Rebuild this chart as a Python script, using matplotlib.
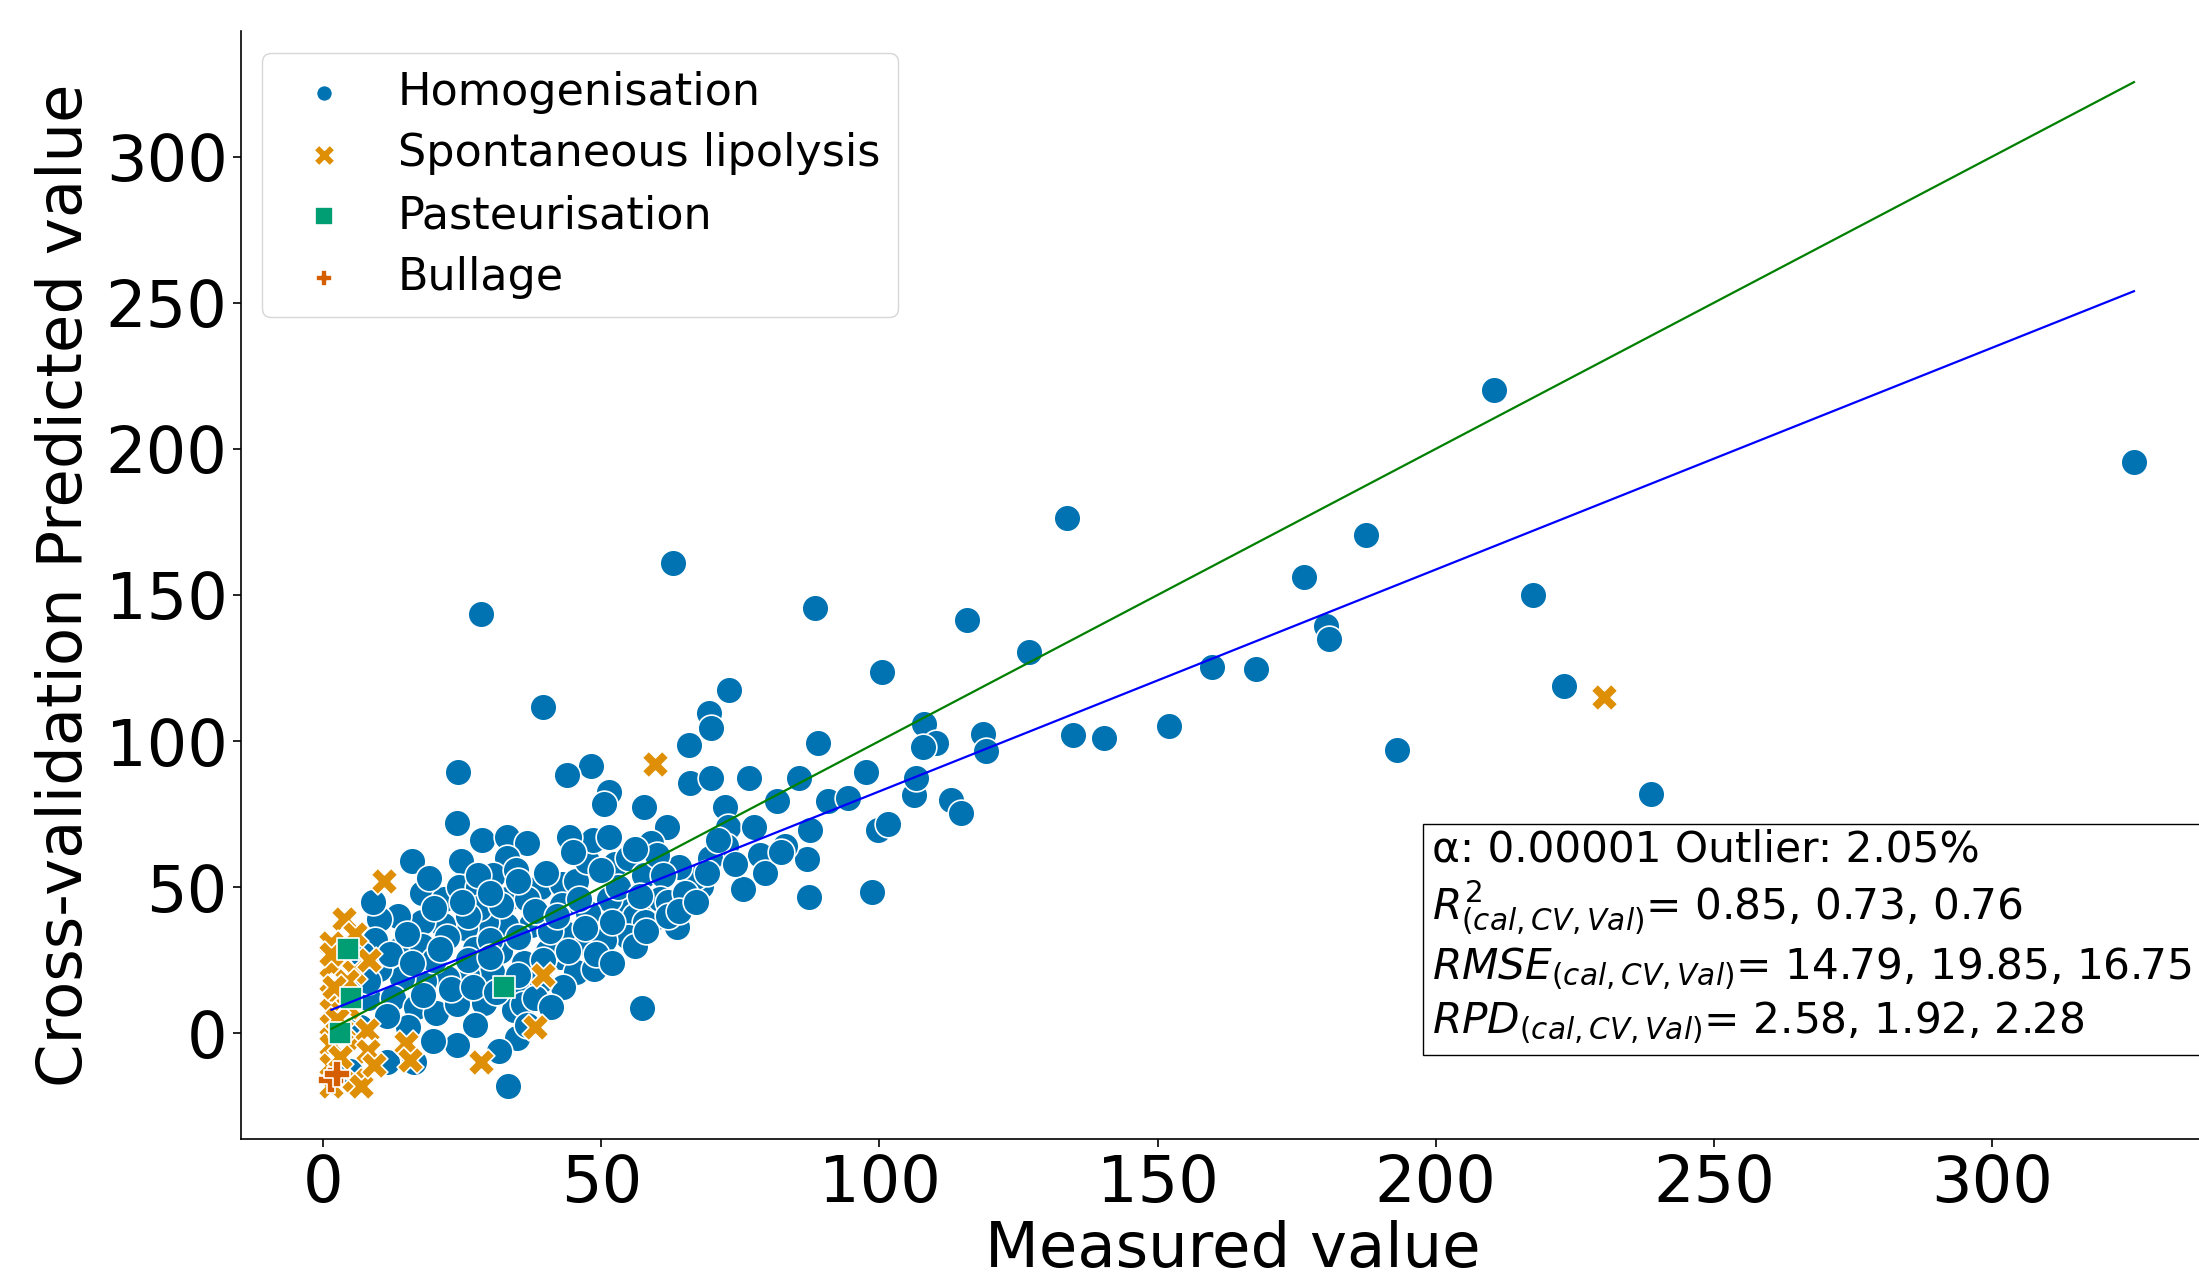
import numpy as np
import matplotlib.pyplot as plt

# Nuages de points : (mesuré, prédit en validation croisée)
homog_x = [210.4, 325.5, 133.8, 62.9, 28.3, 88.4, 187.4, 176.3, 217.4, 115.7, 180.3, 180.8,
           159.8, 167.7, 126.8, 100.5, 223.0, 39.6, 73.0, 193.0, 238.6, 108.0, 152.0, 134.8,
           140.4, 118.7, 119.2, 110.1, 107.8, 88.9, 69.4, 69.7, 65.7, 24.2, 48.2, 43.9,
           51.3, 50.5, 57.6, 66.0, 69.7, 76.5, 72.2, 61.9, 72.7, 77.5, 81.6, 85.6,
           87.6, 90.7, 94.4, 97.5, 99.7, 101.5, 106.3, 106.6, 112.9, 114.6, 86.9, 87.4,
           98.7, 75.5, 67.9, 66.9, 63.6, 57.3, 33.3, 16.4, 11.4, 4.8,
           72.5, 78.5, 69.5, 64.0, 83.0, 59.0,
           15.9, 24.0, 28.5, 33.0, 36.6, 24.7, 33.0, 17.7, 21.7, 24.5, 27.8, 30.6,
           34.6, 38.9, 43.0, 45.5, 47.5, 48.5, 44.2, 51.3, 52.5, 54.8, 57.6, 60.1,
           61.1, 54.8, 51.3, 47.7, 56.0, 59.3, 43.0, 40.4, 43.9, 47.5, 42.7, 45.5,
           48.7, 43.2, 37.4, 32.8, 29.3, 25.5, 21.5, 17.7, 13.4, 10.1, 9.3, 13.9,
           17.7, 22.2, 27.3, 31.8, 36.1, 40.4, 38.9, 34.6, 30.3, 25.8, 22.2, 18.2,
           14.1, 10.1, 8.1, 12.6, 16.7, 20.2, 24.0, 29.0, 34.3, 35.9, 34.8, 27.3,
           24.0, 19.7, 15.2, 11.4, 6.6, 31.6, 36.6, 39.6, 33.0, 36.6, 40.7, 27.8,
           79.5, 82.3, 60.6, 57.8, 54.8, 50.5, 46.0,
           20.0, 26.0, 30.0, 35.0, 38.0, 42.0, 47.0, 52.0, 53.0, 57.0, 62.0, 65.0,
           28.0, 32.0, 20.0, 15.0, 12.0, 8.0, 7.0, 9.0, 18.0, 23.0, 27.0, 31.0,
           16.0, 21.0, 26.0, 30.0, 35.0, 38.0, 41.0, 44.0, 49.0, 52.0, 56.0, 58.0,
           62.0, 64.0, 67.0, 69.0, 74.0, 71.0, 56.0, 50.0, 45.0, 40.0, 35.0, 30.0,
           25.0, 19.0]
homog_y = [220.0, 195.5, 176.5, 161.0, 143.5, 145.5, 170.5, 156.0, 150.0, 141.5, 139.5, 135.0,
           125.5, 124.5, 130.5, 123.5, 119.0, 111.5, 117.5, 97.0, 82.0, 106.0, 105.0, 102.0,
           101.0, 102.5, 96.5, 99.5, 98.0, 99.5, 109.5, 104.5, 98.5, 89.5, 91.5, 88.5,
           82.5, 78.5, 77.5, 85.5, 87.5, 87.5, 77.5, 70.5, 70.5, 70.5, 79.5, 87.5,
           69.5, 79.5, 80.5, 89.5, 69.5, 71.5, 81.5, 87.5, 80.0, 75.5, 59.5, 46.5,
           48.5, 49.5, 50.5, 53.5, 36.5, 8.5, -18.0, -10.0, -10.0, -13.0,
           64.0, 61.0, 60.0, 57.0, 64.0, 65.0,
           59.0, 72.0, 66.0, 67.0, 65.0, 59.0, 60.0, 48.0, 46.0, 50.0, 50.0, 54.0,
           56.0, 50.0, 51.0, 52.0, 59.0, 66.0, 67.0, 67.0, 58.0, 60.0, 54.0, 61.0,
           54.0, 45.0, 46.0, 41.0, 40.0, 39.0, 44.0, 36.0, 34.0, 31.0, 26.0, 21.0,
           22.0, 16.0, 37.0, 37.0, 38.0, 36.0, 37.0, 38.0, 40.0, 39.0, 32.0, 29.0,
           30.0, 33.0, 29.0, 28.0, 24.0, 28.0, 18.0, 16.0, 21.0, 20.0, 19.0, 18.0,
           19.0, 22.0, 12.0, 12.0, 9.0, 7.0, 10.0, 10.5, 8.0, 10.0, -1.5, 3.0,
           -4.0, -2.5, 2.0, 6.0, 2.0, -6.0, 3.0, 25.0, 46.0, 46.0, 35.0, 54.0,
           55.0, 62.0, 46.0, 38.0, 33.0, 32.0, 46.0,
           25.0, 25.0, 32.0, 33.0, 42.0, 40.0, 36.0, 38.0, 50.0, 47.0, 45.0, 48.0,
           43.0, 44.0, 43.0, 34.0, 27.0, 18.0, 27.0, 45.0, 13.0, 15.0, 16.0, 14.0,
           24.0, 29.0, 40.0, 26.0, 20.0, 12.0, 9.0, 28.0, 27.0, 24.0, 30.0, 35.0,
           40.0, 42.0, 45.0, 55.0, 58.0, 66.0, 63.0, 56.0, 62.0, 55.0, 52.0, 48.0,
           45.0, 53.0]

lipo_x = [230.3, 59.6, 10.9, 3.8, 1.5, 5.8, 5.6, 39.6, 38.1, 28.3, 1.5, 1.5, 1.5, 1.5,
          1.5, 1.5, 1.5, 4.3, 4.5, 6.1, 7.8, 8.1, 5.6, 6.8, 9.1, 3.3, 14.9, 15.7,
          8.3, 2.5, 3.0, 2.0, 1.5]
lipo_y = [115.0, 92.0, 52.0, 39.0, 31.0, 34.0, 21.0, 20.0, 2.0, -10.0, 23.0, 13.0, 8.0, 3.0,
          -4.0, -11.0, -18.0, 18.0, 9.0, -2.5, 1.0, -6.0, -16.0, -18.0, -11.0, 1.0, -3.5, -9.0,
          25.0, 5.0, -8.0, 16.0, 27.0]

past_x = [32.6, 4.5, 5.0, 3.0]
past_y = [16.0, 29.0, 12.0, 0.0]

bull_x = [1.5, 2.5]
bull_y = [-16.0, -14.0]

# Droite de régression (prédit vs mesuré)
fit_slope = 0.759
fit_intercept = 6.9

stats_text = ("α: 0.00001 Outlier: 2.05%\n"
              r"$R^2_{(cal,CV,Val)}$= 0.85, 0.73, 0.76" + "\n"
              r"$RMSE_{(cal,CV,Val)}$= 14.79, 19.85, 16.75" + "\n"
              r"$RPD_{(cal,CV,Val)}$= 2.58, 1.92, 2.28")

fig = plt.figure(figsize=(21.99, 12.76), dpi=100)
ax = fig.add_axes([0.1095, 0.1071, 0.9019, 0.8686])

kw = dict(s=370, edgecolor='white', linewidth=1.2)
ax.scatter(homog_x, homog_y, marker='o', color='#0173b2', label='Homogenisation', **kw)
ax.scatter(lipo_x, lipo_y, marker='X', color='#de8f05', label='Spontaneous lipolysis', **kw)
ax.scatter(past_x, past_y, marker='s', color='#029e73', label='Pasteurisation', s=260,
           edgecolor='white', linewidth=1.2)
ax.scatter(bull_x, bull_y, marker='P', color='#d55e00', label='Bullage', **kw)

all_x = np.concatenate([homog_x, lipo_x, past_x, bull_x])
xs = np.array([all_x.min(), all_x.max()])
ax.plot(xs, xs, color='green', linewidth=1.6)
ax.plot(xs, fit_slope * xs + fit_intercept, color='blue', linewidth=1.6)

ax.set_xlim(-14.8, 341.7)
ax.set_ylim(-36.3, 343)
ax.set_xticks([0, 50, 100, 150, 200, 250, 300])
ax.set_yticks([0, 50, 100, 150, 200, 250, 300])
ax.tick_params(labelsize=46, length=6, width=1.2)
ax.set_xlabel('Measured value', fontsize=45, labelpad=4)
ax.set_ylabel('Cross-validation Predicted value', fontsize=45, labelpad=8)

for side in ['top', 'right']:
    ax.spines[side].set_visible(False)
for side in ['left', 'bottom']:
    ax.spines[side].set_linewidth(1.2)

leg = ax.legend(loc='upper left', bbox_to_anchor=(262 / 2199, 1 - 53 / 1276),
                bbox_transform=fig.transFigure, borderaxespad=0, fontsize=32,
                markerscale=0.6, labelspacing=0.42, handletextpad=0.65)
leg.legend_handles[1].set_sizes([230])
leg.legend_handles[2].set_sizes([170])

fig.text(0.651, 0.1795, stats_text, fontsize=30.4, va='bottom', ha='left',
         bbox=dict(boxstyle='square,pad=0.2', facecolor='white', edgecolor='black'))

fig.savefig('out.png', dpi=100)
